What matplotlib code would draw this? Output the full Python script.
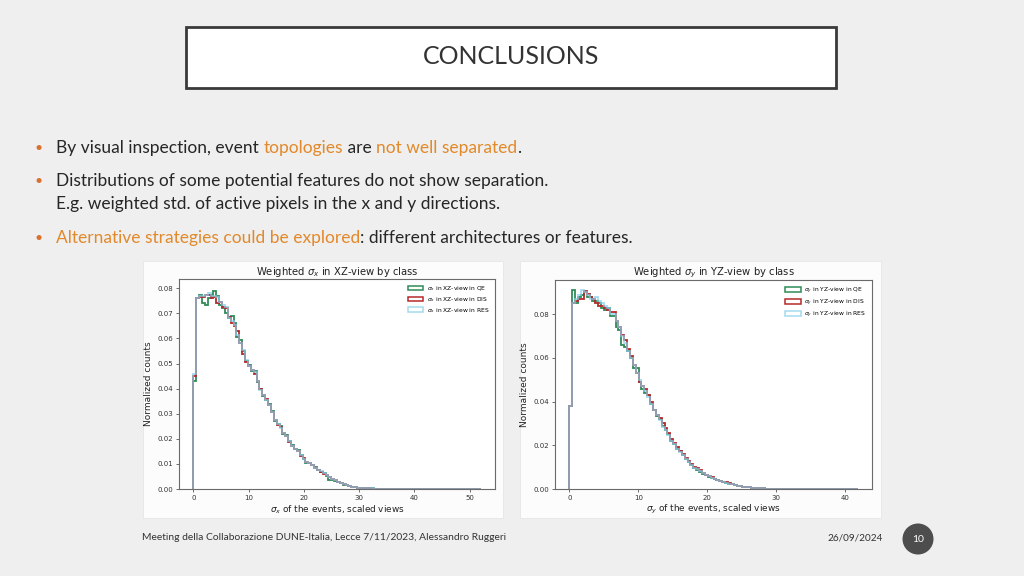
"""
Slide: conclusions with weighted sigma_x / sigma_y histograms by class
"""

import numpy as np
import matplotlib
matplotlib.use("Agg")
import matplotlib.pyplot as plt
from matplotlib.patches import Rectangle, Ellipse, Patch

# ---- data (normalized counts per bin) ----
x_edges = np.linspace(0, 52, 101)
y_edges = np.linspace(0, 41.8, 101)

sx_qe = [0.043, 0.076, 0.0775, 0.074, 0.0735, 0.076, 0.0775, 0.079, 0.077, 0.0735,
         0.072, 0.070, 0.068, 0.069, 0.066, 0.0605, 0.0595, 0.055, 0.051, 0.0495,
         0.047, 0.047, 0.0425, 0.040, 0.037, 0.0355, 0.034, 0.031, 0.027, 0.026,
         0.025, 0.022, 0.0215, 0.019, 0.0175, 0.016, 0.0155, 0.0135, 0.0118, 0.0105,
         0.0102, 0.0094, 0.0086, 0.0076, 0.0068, 0.0062, 0.0052, 0.0036, 0.0035, 0.0032,
         0.0027, 0.0022, 0.0017, 0.0014, 0.0011, 0.0008, 0.0006, 0.0005, 0.0004, 0.0003,
         0.00025, 0.0002, 0.0002, 0.00015, 0.00012, 0.0001, 0.0001, 0.00009, 0.00008, 0.00007,
         0.00006, 0.00006, 0.00005, 0.00005, 0.00004, 0.00004, 0.00003, 0.00003, 0.00003, 0.00002,
         0.00002, 0.00002, 0.00002, 0.00001, 0.00001, 0.00001, 0.00001, 0.00001, 0.0, 0.00001,
         0.0, 0.0, 0.00001, 0.0, 0.0, 0.0, 0.0, 0.0, 0.0, 0.00001]
sx_dis = [0.045, 0.076, 0.0765, 0.0765, 0.0775, 0.0775, 0.076, 0.0765, 0.074, 0.0745,
          0.0725, 0.072, 0.0685, 0.066, 0.065, 0.063, 0.058, 0.054, 0.0505, 0.049,
          0.0475, 0.046, 0.043, 0.040, 0.0375, 0.036, 0.0335, 0.0305, 0.0275, 0.0255,
          0.0248, 0.0225, 0.0212, 0.0188, 0.017, 0.0158, 0.015, 0.013, 0.0122, 0.0108,
          0.0104, 0.0095, 0.0084, 0.0077, 0.0068, 0.006, 0.0056, 0.0046, 0.004, 0.0034,
          0.0029, 0.0023, 0.0018, 0.0014, 0.0011, 0.0009, 0.0007, 0.0005, 0.0004, 0.0003,
          0.00025, 0.0002, 0.00018, 0.00015, 0.00013, 0.0001, 0.0001, 0.00009, 0.00008, 0.00007,
          0.00006, 0.00005, 0.00005, 0.00004, 0.00004, 0.00003, 0.00003, 0.00003, 0.00002, 0.00002,
          0.00002, 0.00002, 0.00001, 0.00001, 0.00001, 0.00001, 0.00001, 0.0, 0.00001, 0.0,
          0.0, 0.00001, 0.0, 0.0, 0.0, 0.0, 0.0, 0.00001, 0.0, 0.0]
sx_res = [0.046, 0.076, 0.077, 0.077, 0.0775, 0.078, 0.077, 0.077, 0.0765, 0.0745,
          0.0735, 0.0725, 0.068, 0.067, 0.0655, 0.0615, 0.058, 0.0555, 0.0515, 0.049,
          0.0475, 0.0465, 0.043, 0.0395, 0.0375, 0.0355, 0.0335, 0.0305, 0.0275, 0.026,
          0.0245, 0.0225, 0.021, 0.019, 0.0172, 0.016, 0.015, 0.0135, 0.012, 0.0108,
          0.0102, 0.0095, 0.0085, 0.0075, 0.007, 0.0062, 0.0054, 0.0046, 0.004, 0.0034,
          0.0028, 0.0023, 0.0018, 0.0014, 0.0011, 0.0009, 0.0007, 0.0005, 0.0004, 0.0003,
          0.00025, 0.0002, 0.0002, 0.00015, 0.00015, 0.0001, 0.0001, 0.0001, 0.0001, 0.00008,
          0.00008, 0.00006, 0.00006, 0.00005, 0.00005, 0.00004, 0.00004, 0.00003, 0.00003, 0.00002,
          0.00002, 0.00002, 0.00002, 0.00001, 0.00001, 0.00001, 0.00001, 0.00001, 0.00001, 0.0,
          0.00001, 0.0, 0.0, 0.00001, 0.0, 0.0, 0.0, 0.0, 0.0, 0.00001]

sy_qe = [0.038, 0.091, 0.085, 0.088, 0.089, 0.090, 0.088, 0.088, 0.086, 0.086,
         0.085, 0.083, 0.082, 0.083, 0.079, 0.079, 0.074, 0.073, 0.066, 0.065,
         0.063, 0.060, 0.0555, 0.0555, 0.049, 0.046, 0.044, 0.043, 0.039, 0.036,
         0.0335, 0.032, 0.029, 0.027, 0.025, 0.022, 0.0205, 0.0185, 0.0172, 0.0155,
         0.0138, 0.0122, 0.0108, 0.0096, 0.0088, 0.0078, 0.0068, 0.0062, 0.0056, 0.0052,
         0.0046, 0.0041, 0.0036, 0.0032, 0.0028, 0.0024, 0.0021, 0.0017, 0.0014, 0.0012,
         0.001, 0.0008, 0.0007, 0.0006, 0.0005, 0.0004, 0.0003, 0.0003, 0.0002, 0.0002,
         0.00015, 0.00015, 0.0001, 0.0001, 0.0001, 0.00008, 0.00008, 0.00006, 0.00006, 0.00005,
         0.00005, 0.00004, 0.00004, 0.00003, 0.00003, 0.00003, 0.00002, 0.00002, 0.00002, 0.00002,
         0.00001, 0.00001, 0.00001, 0.00001, 0.0, 0.00001, 0.0, 0.0, 0.0, 0.0]
sy_dis = [0.038, 0.085, 0.086, 0.087, 0.087, 0.0905, 0.0895, 0.088, 0.087, 0.085,
          0.084, 0.084, 0.083, 0.082, 0.081, 0.081, 0.077, 0.074, 0.0705, 0.068,
          0.064, 0.061, 0.057, 0.053, 0.049, 0.047, 0.046, 0.043, 0.040, 0.036,
          0.034, 0.0325, 0.030, 0.028, 0.0255, 0.023, 0.0212, 0.0192, 0.0176, 0.016,
          0.0142, 0.013, 0.0115, 0.0102, 0.0095, 0.0085, 0.0074, 0.0066, 0.006, 0.0054,
          0.0048, 0.0043, 0.0038, 0.0034, 0.003, 0.0026, 0.0022, 0.0019, 0.0016, 0.0013,
          0.0011, 0.0009, 0.0007, 0.0006, 0.0005, 0.0004, 0.0003, 0.0003, 0.0002, 0.0002,
          0.00015, 0.00015, 0.0001, 0.0001, 0.0001, 0.00008, 0.00008, 0.00006, 0.00006, 0.00005,
          0.00005, 0.00004, 0.00004, 0.00004, 0.00003, 0.00003, 0.00003, 0.00002, 0.00002, 0.00002,
          0.00002, 0.00001, 0.00001, 0.00001, 0.00001, 0.00001, 0.00001, 0.00001, 0.00001, 0.0002]
sy_res = [0.038, 0.085, 0.087, 0.089, 0.091, 0.090, 0.089, 0.087, 0.087, 0.088,
          0.086, 0.085, 0.084, 0.083, 0.080, 0.080, 0.077, 0.074, 0.070, 0.067,
          0.063, 0.060, 0.057, 0.053, 0.050, 0.047, 0.045, 0.042, 0.039, 0.036,
          0.034, 0.0315, 0.0285, 0.027, 0.0245, 0.022, 0.0205, 0.0185, 0.017, 0.0155,
          0.0138, 0.0125, 0.0112, 0.0098, 0.0092, 0.0082, 0.0072, 0.0064, 0.0058, 0.0052,
          0.0047, 0.0042, 0.0037, 0.0033, 0.0029, 0.0025, 0.0021, 0.0018, 0.0015, 0.0012,
          0.001, 0.0008, 0.0007, 0.0006, 0.0005, 0.0004, 0.0003, 0.0003, 0.0002, 0.0002,
          0.00015, 0.00015, 0.0001, 0.0001, 0.0001, 0.00008, 0.00008, 0.00006, 0.00006, 0.00005,
          0.00005, 0.00004, 0.00004, 0.00003, 0.00003, 0.00003, 0.00002, 0.00002, 0.00002, 0.00002,
          0.00001, 0.00001, 0.00001, 0.00001, 0.00001, 0.0, 0.00001, 0.0, 0.0, 0.0]

class_names = ["QE", "DIS", "RES"]
class_colors = ["#2e8b57", "#b52a2a", "#87ceeb"]

bullets = [
    [("By visual inspection, event ", "k"), ("topologies", "o"), (" are ", "k"),
     ("not well separated", "o"), (".", "k")],
    [("Distributions of some potential features do not show separation.", "k")],
    [("E.g. weighted std. of active pixels in the x and y directions.", "k")],
    [("Alternative strategies could be explored", "o"),
     (": different architectures or features.", "k")],
]
bullet_y = [148, 181, 204, 238]
has_dot = [True, True, False, True]

footer = "Meeting della Collaborazione DUNE-Italia, Lecce 7/11/2023, Alessandro Ruggeri"
date = "26/09/2024"
page = "10"

W, H = 1024, 576
TEXT = "#262626"
ORANGE = "#e2892a"
FONT = ["Lato", "DejaVu Sans"]
PLOT_FONT = "DejaVu Sans"


def fx(x):
    return x / W


def fy(y):
    return 1 - y / H


fig = plt.figure(figsize=(W / 100, H / 100), dpi=100, facecolor="#efefef")

# title box
fig.add_artist(Rectangle((fx(186), fy(88)), fx(650), 61 / H, transform=fig.transFigure,
                         fc="white", ec="#3a3a3a", lw=2, zorder=-2))
fig.text(fx(511), fy(57), "CONCLUSIONS", ha="center", va="center", fontsize=18,
         family=FONT, color="#333333")

# bullet text, pieces placed one after the other
renderer = fig.canvas.get_renderer()
for parts, y, dot in zip(bullets, bullet_y, has_dot):
    if dot:
        fig.text(fx(34), fy(y), "\u2022", color="#d9702e", fontsize=10, va="center",
                 family=FONT)
    x = fx(56)
    for s, c in parts:
        t = fig.text(x, fy(y), s, color=ORANGE if c == "o" else TEXT, fontsize=12.5,
                     va="center", family=FONT)
        x += t.get_window_extent(renderer).width / W

# white panels behind the two charts
for left, width in [(143, 360), (520, 361)]:
    fig.add_artist(Rectangle((fx(left), fy(518)), fx(width), 257 / H,
                             transform=fig.transFigure, fc="#fcfcfc", ec="#e6e6e6",
                             lw=0.6, zorder=-2))


def panel(rect, edges, series, var, view, xlim, ylim):
    ax = fig.add_axes(rect)
    handles = []
    for vals, name, col in zip(series, class_names, class_colors):
        alpha = 0.75 if name == "RES" else 1.0
        ax.stairs(vals, edges, color=col, lw=1.3, alpha=alpha)
        handles.append(Patch(fc="none", ec=col, lw=1.1, alpha=alpha,
                             label=rf"$\sigma_{var}$ in {view}-view in {name}"))
    ax.set_xlim(*xlim)
    ax.set_ylim(*ylim)
    ax.yaxis.set_major_formatter(matplotlib.ticker.FormatStrFormatter("%.2f"))
    ax.set_title(rf"Weighted $\sigma_{var}$ in {view}-view by class", fontsize=7.2, pad=3,
                 color="#222222", family=PLOT_FONT)
    ax.set_xlabel(rf"$\sigma_{var}$ of the events, scaled views", fontsize=6.4, labelpad=1.5,
                  color="#222222", family=PLOT_FONT)
    ax.set_ylabel("Normalized counts", fontsize=6.5, labelpad=3, color="#222222",
                  family=PLOT_FONT)
    ax.tick_params(labelsize=5, length=2.5, width=0.6, color="#555555",
                   labelcolor="#333333", pad=2)
    for lab in ax.get_xticklabels() + ax.get_yticklabels():
        lab.set_family(PLOT_FONT)
    for sp in ax.spines.values():
        sp.set_color("#6a6a6a")
        sp.set_linewidth(0.8)
    leg = ax.legend(handles=handles, loc="upper right", frameon=False, fontsize=4.3,
                    handlelength=2.6, handleheight=0.8, labelspacing=0.3,
                    borderaxespad=0.5, handletextpad=0.6)
    for txt in leg.get_texts():
        txt.set_family(PLOT_FONT)
    return ax


panel([fx(179), fy(489), fx(316), 210 / H], x_edges, [sx_qe, sx_dis, sx_res], "x", "XZ",
      (-2.6, 54.6), (0, 0.0837))
panel([fx(555), fy(489), fx(317), 209 / H], y_edges, [sy_qe, sy_dis, sy_res], "y", "YZ",
      (-2.09, 43.89), (0, 0.0957))

# footer
fig.text(fx(142), fy(537), footer, fontsize=7.35, va="center", family=FONT, color="#333333")
fig.text(fx(855), fy(538), date, fontsize=7.2, ha="center", va="center", family=FONT,
         color="#333333")
fig.add_artist(Ellipse((fx(918), fy(539)), fx(31), 31 / H, transform=fig.transFigure,
                       fc="#4d4d4d", ec="none"))
fig.text(fx(918), fy(539), page, fontsize=7.5, ha="center", va="center", family=FONT,
         color="white")

fig.savefig("out.png", dpi=100, facecolor=fig.get_facecolor())
